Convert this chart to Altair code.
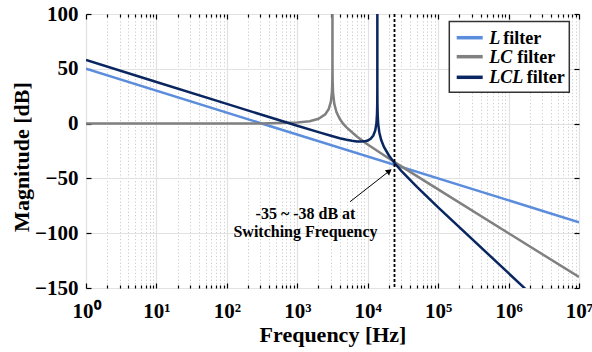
import altair as alt
import pandas as pd

# ---------------- data ----------------
SERIES = ["L filter", "LC filter", "LCL filter"]
COLORS = ["#5b8ddc", "#808080", "#0a2660"]

L_FREQ = [1, 1e7]
L_DB = [50, -90]

LC_FREQ = [1, 10, 100, 300, 1000, 1500, 2000, 2500, 2800, 3000,
           3100, 3120, 3140, 3150, 3155, 3158, 3160, 3162, 3165, 3170,
           3180, 3220, 3350, 3600, 4000, 4470, 5000, 7000, 10000, 20000,
           24000, 30000, 1e5, 1e6, 1e7]
LC_DB = [0, 0, 0, 0.1, 0.9, 2.2, 4.4, 8.5, 13.4, 20.0,
         28.4, 32.0, 38.0, 43.9, 50.0, 57.9, 400, 57.9, 50.0, 44.0,
         37.9, 28.3, 18.2, 10.6, 4.4, 0.0, -3.5, -11.8, -19.1, -31.8,
         -35.1, -39.0, -60.0, -100.0, -140.0]

LCL_FREQ = [1, 10, 100, 1000, 2000, 3000, 4000, 5000, 6000, 7000,
            8000, 9000, 10000, 11000, 12000, 12800, 13300, 13550, 13650, 13680,
            13695, 13700, 13705, 13720, 13750, 13850, 14100, 14600, 15500, 17000,
            20000, 24000, 30000, 50000, 1e5, 1e6, 2e6, 1e7]
LCL_DB = [58, 38, 18, -2.0, -7.8, -11.1, -13.3, -14.7, -15.7, -16.3,
          -16.4, -16.2, -15.4, -13.8, -10.9, -6.2, 0.3, 8.6, 18.0, 26.0,
          38.0, 400, 38.0, 26.0, 18.0, 8.3, -0.4, -7.9, -14.8, -21.3,
          -29.1, -35.9, -43.1, -57.8, -76.4, -136.5, -154.6, -196.5]

SW_FREQ = [24000]
ARROW_FREQ = [5610, 20230]
ARROW_DB = [-71.3, -43.3]
ANNOT = ["-35 ~ -38 dB at", "Switching Frequency"]

LEGEND_ITALIC = ["L", "LC", "LCL"]
LEGEND_REST = "filter"

X_MAJOR = [1, 10, 100, 1000, 10000, 100000, 1000000, 10000000]
X_MINOR = [m * 10 ** k for k in range(7) for m in range(2, 10)]
Y_TICKS = [-150, -100, -50, 0, 50, 100]
SUPERSCRIPTS = ["⁰", "¹", "²", "³", "⁴", "⁵", "⁶", "⁷"]

# ---------------- layout / style ----------------
W, H = 493, 274
FONT = "Liberation Serif"

rows = []
for name, fr, db in zip(SERIES, [L_FREQ, LC_FREQ, LCL_FREQ], [L_DB, LC_DB, LCL_DB]):
    for f, d in zip(fr, db):
        rows.append({"series": name, "f": f, "db": d})
curves = pd.DataFrame(rows)

xscale = alt.Scale(type="log", domain=[1, 1e7], nice=False)
yscale = alt.Scale(domain=[-150, 100], nice=False, zero=False)

sup_arr = "[" + ",".join("'" + s + "'" for s in SUPERSCRIPTS) + "]"

main_x_axis = alt.Axis(
    values=X_MAJOR,
    labelExpr="'10' + " + sup_arr + "[round(log(datum.value)/LN10)]",
    labelFont=FONT, labelFontSize=21, labelFontWeight="bold", labelColor="black",
    labelFlush=False, labelOverlap=False, labelBaseline="alphabetic", labelPadding=29,
    ticks=False, tickSize=0, domain=False,
    grid=True, gridColor="#e2e2e2", gridWidth=1.2,
    title="Frequency [Hz]", titleFont=FONT, titleFontSize=22, titleFontWeight="bold",
    titleColor="black", titleX=W / 2, titleY=53, titleBaseline="alphabetic",
)

main_y_axis = alt.Axis(
    values=Y_TICKS,
    labelFont=FONT, labelFontSize=21, labelFontWeight="bold", labelColor="black",
    labelFlush=False, labelOverlap=False, labelPadding=8, labelBaseline="middle",
    ticks=False, tickSize=0, domain=False,
    grid=True, gridColor="#e2e2e2", gridWidth=1.2,
    title="Magnitude [dB]", titleFont=FONT, titleFontSize=22, titleFontWeight="bold",
    titleColor="black", titleX=-58, titleY=142.5, titleBaseline="alphabetic", titleAngle=270,
)

minor_grid_axis = alt.Axis(
    values=X_MINOR, grid=True, gridColor="#cccccc", gridDash=[1.2, 2.2], gridWidth=1,
    labels=False, ticks=False, domain=False, title=None,
)

major_test = "abs(log(datum.value)/LN10 - round(log(datum.value)/LN10)) < 0.001"
tick_size_x = {"condition": {"test": major_test, "value": 5}, "value": 3}


def x_tick_axis(orient):
    return alt.Axis(
        orient=orient, offset=-H, values=X_MAJOR + X_MINOR, tickSize=tick_size_x,
        tickColor="black", tickWidth=1.2, labels=False, domain=False, grid=False, title=None,
    )


def y_tick_axis(orient):
    return alt.Axis(
        orient=orient, offset=-W, values=Y_TICKS, tickSize=5,
        tickColor="black", tickWidth=1.2, labels=False, domain=False, grid=False, title=None,
    )


lines = alt.Chart(curves).mark_line(clip=True, strokeWidth=2.5).encode(
    x=alt.X("f:Q", scale=xscale, axis=main_x_axis),
    y=alt.Y("db:Q", scale=yscale, axis=main_y_axis),
    color=alt.Color("series:N", scale=alt.Scale(domain=SERIES, range=COLORS), legend=None),
)

sw = alt.Chart(pd.DataFrame({"f": SW_FREQ})).mark_rule(
    color="black", strokeWidth=1.8, strokeDash=[3, 2]
).encode(x=alt.X("f:Q", scale=xscale, axis=minor_grid_axis))

xt = pd.DataFrame({"f": [1, 1e7]})
yt = pd.DataFrame({"v": [-150, 100]})
tick_layers = [
    alt.Chart(xt).mark_rule(opacity=0).encode(x=alt.X("f:Q", scale=xscale, axis=x_tick_axis("top"))),
    alt.Chart(xt).mark_rule(opacity=0).encode(x=alt.X("f:Q", scale=xscale, axis=x_tick_axis("bottom"))),
    alt.Chart(yt).mark_rule(opacity=0).encode(y=alt.Y("v:Q", scale=yscale, axis=y_tick_axis("right"))),
    alt.Chart(yt).mark_rule(opacity=0).encode(y=alt.Y("v:Q", scale=yscale, axis=y_tick_axis("left"))),
]

arrow_df = pd.DataFrame({"f": ARROW_FREQ, "db": ARROW_DB})
arrow = alt.Chart(arrow_df).mark_line(color="black", strokeWidth=1).encode(
    x=alt.X("f:Q", scale=xscale, axis=None),
    y=alt.Y("db:Q", scale=yscale, axis=None),
)
head = alt.Chart(arrow_df.tail(1)).mark_point(
    shape="triangle-up", angle=52, size=45, filled=True, color="black", opacity=1
).encode(
    x=alt.X("f:Q", scale=xscale, axis=None),
    y=alt.Y("db:Q", scale=yscale, axis=None),
)

dummy = pd.DataFrame({"a": [0]})
annot_layers = [
    alt.Chart(dummy).mark_text(font=FONT, fontSize=16, fontWeight="bold", color="black",
                               align="center", baseline="middle").encode(
        x=alt.value(219.5), y=alt.value(yy), text=alt.value(t))
    for t, yy in zip(ANNOT, [200, 218])
]

legend_box = alt.Chart(dummy).mark_rect(fill="white", stroke="#333333", strokeWidth=1.5).encode(
    x=alt.value(363.3), x2=alt.value(483.3), y=alt.value(7.5), y2=alt.value(78.3))

legend_layers = [legend_box]
ROW_Y = [23.7, 42.7, 63.3]
REST_DX = [14, 28, 37.5]
for i, name in enumerate(SERIES):
    legend_layers.append(
        alt.Chart(dummy).mark_rule(color=COLORS[i], strokeWidth=3.5).encode(
            x=alt.value(370.7), x2=alt.value(396.7), y=alt.value(ROW_Y[i])))
    legend_layers.append(
        alt.Chart(dummy).mark_text(font=FONT, fontSize=18, fontWeight="bold", fontStyle="italic",
                                   color="black", align="left", baseline="middle").encode(
            x=alt.value(403.3), y=alt.value(ROW_Y[i] + 1), text=alt.value(LEGEND_ITALIC[i])))
    legend_layers.append(
        alt.Chart(dummy).mark_text(font=FONT, fontSize=18, fontWeight="bold",
                                   color="black", align="left", baseline="middle").encode(
            x=alt.value(403.3 + REST_DX[i]), y=alt.value(ROW_Y[i] + 1), text=alt.value(LEGEND_REST)))

chart = alt.layer(
    lines, sw, *tick_layers, arrow, head, *annot_layers, *legend_layers
).resolve_axis(x="independent", y="independent").properties(
    width=W, height=H,
    autosize=alt.AutoSizeParams(type="none"),
    padding={"left": 86, "top": 14, "right": 13, "bottom": 64},
).configure_view(stroke="black", strokeWidth=1.3).configure(font=FONT)

chart.save("out.html", embed_options={"renderer": "svg", "actions": False})
